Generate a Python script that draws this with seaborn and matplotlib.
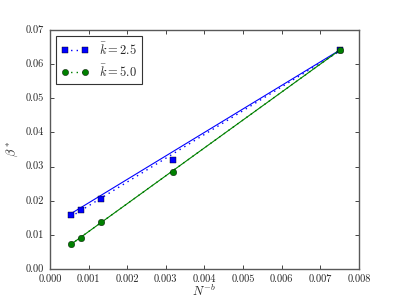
import matplotlib
matplotlib.use("Agg")
import matplotlib.pyplot as plt
from matplotlib.lines import Line2D
import numpy as np
import pandas as pd
import seaborn as sns

# data
x_vals = [0.00054, 0.00080, 0.00132, 0.00318, 0.00750]
beta_k25 = [0.0157, 0.0173, 0.0205, 0.0319, 0.0641]
beta_k50 = [0.0072, 0.0091, 0.0137, 0.0284, 0.0641]

# fit lines (end points): solid and dotted
fit_x = [0.00054, 0.00750]
fit_k25_solid = [0.0162, 0.0641]
fit_k25_dot = [0.0153, 0.0638]
fit_k50_solid = [0.0072, 0.0641]
fit_k50_dot = [0.0072, 0.0641]

labels = [r"$\bar{k}=2.5$", r"$\bar{k}=5.0$"]
blue = (0, 0, 1)
green = (0, 0.5, 0)

plt.style.use("classic")
sns.set_style("ticks", {"xtick.direction": "in", "ytick.direction": "in"})
plt.rcParams["font.family"] = ["cmr10", "DejaVu Serif"]
plt.rcParams["mathtext.fontset"] = "cm"
plt.rcParams["axes.formatter.use_mathtext"] = True

df = pd.DataFrame({"x": x_vals, "k25": beta_k25, "k50": beta_k50})

fig, ax = plt.subplots(figsize=(3.99, 2.99), dpi=100)
fig.subplots_adjust(left=0.125, right=0.9, bottom=0.1, top=0.9)

ax.plot(fit_x, fit_k25_dot, color=blue, linestyle=":", linewidth=1)
ax.plot(fit_x, fit_k25_solid, color=blue, linewidth=0.8)
ax.plot(fit_x, fit_k50_dot, color=green, linestyle=":", linewidth=1)
ax.plot(fit_x, fit_k50_solid, color=green, linewidth=0.8)

sns.scatterplot(data=df, x="x", y="k25", ax=ax, color=blue, marker="s", s=22,
                edgecolor="k", linewidth=0.3, zorder=3)
sns.scatterplot(data=df, x="x", y="k50", ax=ax, color=green, marker="o", s=22,
                edgecolor="k", linewidth=0.3, zorder=3)

ax.set_xlim(0, 0.008)
ax.set_ylim(0, 0.07)
xt = np.arange(0, 0.0081, 0.001)
yt = np.arange(0, 0.0701, 0.01)
ax.set_xticks(xt)
ax.set_yticks(yt)
ax.set_xticklabels(["%.3f" % v for v in xt])
ax.set_yticklabels(["%.2f" % v for v in yt])
ax.tick_params(labelsize=7.5, direction="in", top=True, right=True, length=3, width=0.6)
for s in ax.spines.values():
    s.set_linewidth(1.0)
    s.set_color("0.35")

ax.set_xlabel(r"$N^{-b}$", fontsize=9, labelpad=0)
ax.set_ylabel(r"$\beta^*$", fontsize=9, labelpad=4)

handles = [
    Line2D([], [], color=blue, linestyle=":", marker="s", markersize=4.5,
           markeredgecolor="k", markeredgewidth=0.3),
    Line2D([], [], color=green, linestyle=":", marker="o", markersize=4.5,
           markeredgecolor="k", markeredgewidth=0.3),
]
leg = ax.legend(handles, labels, loc="upper left", numpoints=2, fontsize=9, frameon=True,
                handlelength=2.2, borderpad=0.4, labelspacing=0.5)
leg.get_frame().set_edgecolor("0.2")
leg.get_frame().set_linewidth(0.8)

fig.savefig("out.png", dpi=100)
